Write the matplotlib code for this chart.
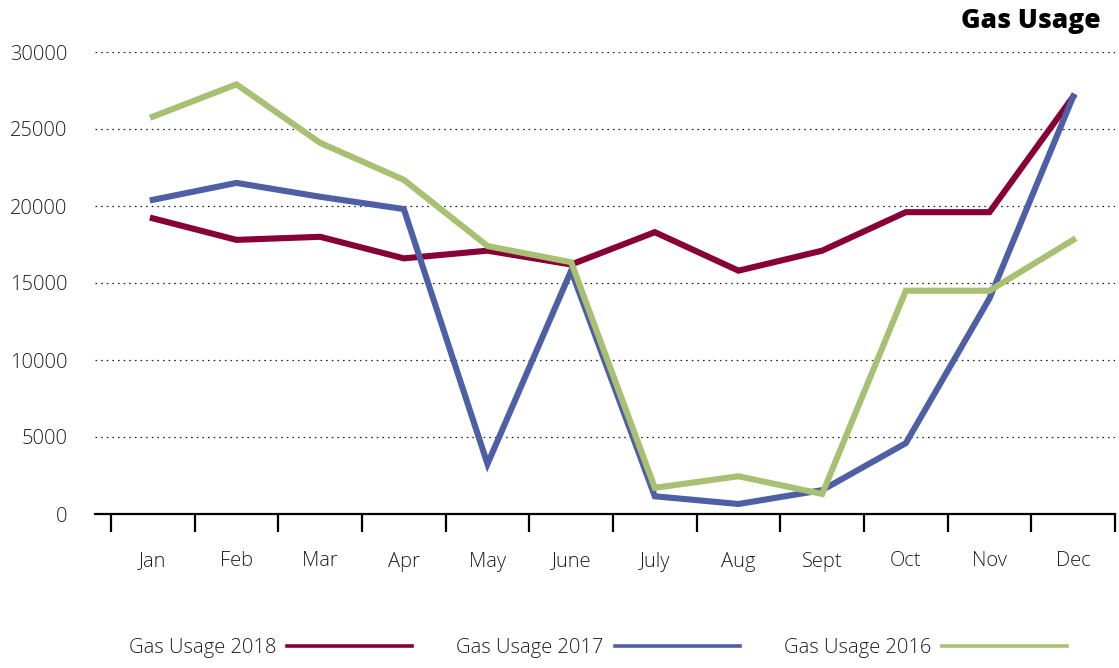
import matplotlib
matplotlib.use("Agg")
import matplotlib.pyplot as plt
from matplotlib.lines import Line2D
import numpy as np

months = ["Jan", "Feb", "Mar", "Apr", "May", "June", "July", "Aug", "Sept", "Oct", "Nov", "Dec"]
usage_2018 = [19200, 17800, 18000, 16600, 17100, 16200, 18300, 15800, 17100, 19600, 19600, 27100]
usage_2017 = [20400, 21500, 20600, 19800, 3250, 15800, 1150, 650, 1550, 4600, 14000, 27100]
usage_2016 = [25800, 27900, 24100, 21700, 17400, 16350, 1700, 2450, 1300, 14500, 14500, 17800]
series_names = ["Gas Usage 2018", "Gas Usage 2017", "Gas Usage 2016"]
colors = ["#870036", "#4F5FA5", "#A7C071"]
y_ticks = [0, 5000, 10000, 15000, 20000, 25000, 30000]

plt.rcParams['font.family'] = ['Open Sans', 'DejaVu Sans']
W, H = 1119, 668
fig = plt.figure(figsize=(W / 100, H / 100), dpi=100)
ax = fig.add_axes([95 / W, (H - 514) / H, (1115 - 95) / W, (514 - 52) / H])

x = np.arange(len(months))
for vals, c in zip([usage_2018, usage_2017, usage_2016], colors):
    ax.plot(x, vals, color=c, lw=4.4, solid_joinstyle='miter', zorder=3)

ax.set_xlim(-0.5 - 16 / 83.67, len(months) - 0.5)
ax.set_ylim(0, 30000)

ax.set_yticks(y_ticks)
ax.set_yticklabels([str(v) for v in y_ticks])
ax.tick_params(axis='y', length=0, pad=20, labelsize=14.5, labelcolor='#1e1e1e')
ax.yaxis.grid(True, linestyle=(0, (1.3, 3.2)), color='#222222', lw=0.9)
ax.set_axisbelow(True)

ax.set_xticks(np.arange(len(months) + 1) - 0.5)
ax.set_xticklabels([])
ax.set_xticks(x, minor=True)
ax.set_xticklabels(months, minor=True)
ax.tick_params(axis='x', which='major', length=13, width=1.6, color='black', direction='out')
ax.tick_params(axis='x', which='minor', length=0, pad=27, labelsize=14.5, labelcolor='#1e1e1e')

for lbl in ax.get_yticklabels() + ax.get_xticklabels(minor=True):
    lbl.set_fontweight('light')

for s in ['left', 'right', 'top']:
    ax.spines[s].set_visible(False)
ax.spines['bottom'].set_linewidth(1.6)
ax.spines['bottom'].set_color('black')

fig.text(1101 / W, (H - 21) / H, "Gas Usage", ha='right', va='center',
         fontsize=19, fontweight='heavy', color='black')

handles = [Line2D([], [], color=c, lw=2.6) for c in colors]
leg = fig.legend(handles, series_names, loc='center', bbox_to_anchor=(598 / W, 20 / H),
                 ncol=3, frameon=False, markerfirst=False, fontsize=14.5,
                 handlelength=6.2, handletextpad=0.55, columnspacing=2.2, labelcolor='#1e1e1e')
for t in leg.get_texts():
    t.set_fontweight('light')

fig.savefig("out.png", dpi=100)
